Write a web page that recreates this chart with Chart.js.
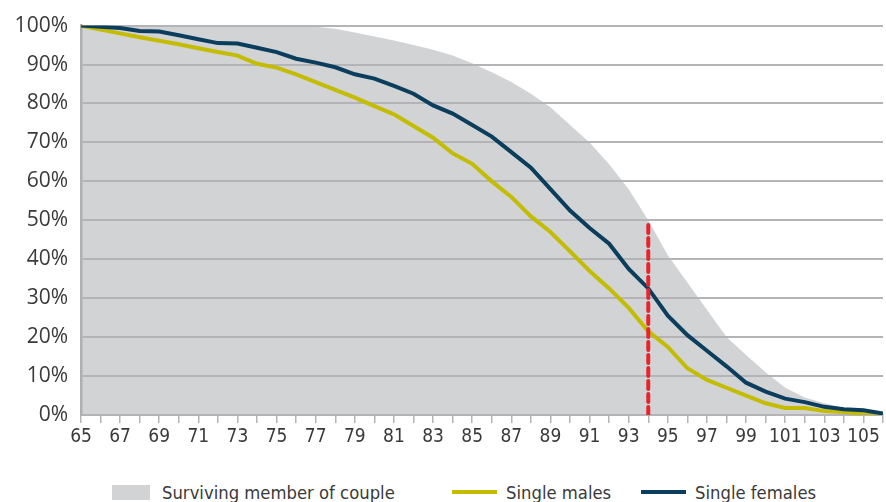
<!DOCTYPE html>
<html>
<head>
<meta charset="utf-8">
<script src="https://cdn.jsdelivr.net/npm/chart.js@4/dist/chart.umd.min.js"></script>
<style>
  body { margin: 0; background: #fff; }
  #wrap { position: relative; width: 886px; height: 502px; }
  #box { position: absolute; left: 0; top: 0; width: 886px; height: 470px; }
  #legend { position: absolute; left: 0; top: 480px; width: 886px; height: 24px;
    font-family: "DejaVu Sans Condensed", "Open Sans", sans-serif; font-size: 18.3px; color: #3a3a3a; }
  .item { position: absolute; top: 0; display: flex; align-items: center; height: 24px; white-space: nowrap; }
  .swatch { display: inline-block; margin-right: 12px; }
</style>
</head>
<body>
<div id="wrap">
  <div id="box"><canvas id="chart"></canvas></div>
  <div id="legend"></div>
</div>
<script>
// Ages on the x axis
const ages = [65, 66, 67, 68, 69, 70, 71, 72, 73, 74, 75, 76, 77, 78, 79, 80, 81, 82, 83, 84, 85,
  86, 87, 88, 89, 90, 91, 92, 93, 94, 95, 96, 97, 98, 99, 100, 101, 102, 103, 104, 105, 106];

// Share still alive (%) at each age
const couple = [100, 100, 100, 100, 100, 100, 100, 100, 100, 100, 100, 99.9, 99.7, 99.2, 98.2, 97.2,
  96.2, 95, 93.8, 92.3, 90.3, 88, 85.5, 82.5, 79, 74.5, 70, 64.4, 58, 50, 41, 34, 27, 20, 15.4, 11,
  7, 4.5, 3, 1.8, 1.1, 0.6];
const males = [100, 99, 98, 97, 96.1, 95.2, 94.2, 93.2, 92.3, 90.2, 89.2, 87.5, 85.5, 83.5, 81.5, 79.3,
  77.2, 74.2, 71.2, 67.2, 64.5, 60, 56, 51, 47, 42, 37, 32.5, 27.5, 21.5, 17.5, 12, 9, 7, 5, 3,
  1.8, 1.8, 1, 0.8, 0.2, 0];
const females = [100, 99.7, 99.4, 98.6, 98.5, 97.5, 96.5, 95.5, 95.4, 94.3, 93.2, 91.5, 90.5, 89.3, 87.5, 86.4,
  84.5, 82.5, 79.5, 77.4, 74.5, 71.5, 67.5, 63.5, 58, 52.5, 48, 44, 37.5, 32.5, 25.5, 20.5, 16.5, 12.5, 8.3, 6,
  4.2, 3.3, 2.1, 1.5, 1.2, 0.4];

// Dashed marker: age where half of couples still have a survivor
const markerAge = 94;
const markerLevel = 50;

const seriesNames = ['Surviving member of couple', 'Single males', 'Single females'];
const colors = { couple: '#d1d3d5', males: '#c4bc00', females: '#0b3d5d', marker: '#e8232d', grid: '#b4b4b7' };
const narrowFont = '"DejaVu Sans Condensed", "Open Sans", sans-serif';

function toPoints(values) {
  return ages.map((a, i) => ({ x: a, y: values[i] }));
}

new Chart(document.getElementById('chart'), {
  type: 'line',
  data: {
    datasets: [
      {
        label: 'marker',
        data: [{ x: markerAge, y: 0 }, { x: markerAge, y: markerLevel }],
        borderColor: colors.marker,
        borderWidth: 4,
        borderDash: [8, 5],
        borderCapStyle: 'round',
        pointRadius: 0,
        order: 0
      },
      {
        label: seriesNames[2],
        data: toPoints(females),
        borderColor: colors.females,
        borderWidth: 4,
        pointRadius: 0,
        order: 1
      },
      {
        label: seriesNames[1],
        data: toPoints(males),
        borderColor: colors.males,
        borderWidth: 4,
        pointRadius: 0,
        order: 2
      },
      {
        label: seriesNames[0],
        data: toPoints(couple),
        borderWidth: 0,
        borderColor: 'rgba(0,0,0,0)',
        backgroundColor: colors.couple,
        fill: 'origin',
        pointRadius: 0,
        order: 3
      }
    ]
  },
  options: {
    responsive: true,
    maintainAspectRatio: false,
    animation: false,
    layout: { padding: { top: 21, right: 0, bottom: 0, left: 0 } },
    plugins: {
      legend: { display: false },
      tooltip: { enabled: false },
      filler: { drawTime: 'beforeDraw' }
    },
    scales: {
      x: {
        type: 'linear',
        min: 65,
        max: 106,
        afterFit(scale) { scale.height = 55; },
        grid: { drawOnChartArea: false, drawTicks: true, tickLength: 8, color: colors.grid, lineWidth: 1.5 },
        border: { display: true, color: colors.grid, width: 2 },
        ticks: {
          stepSize: 1,
          autoSkip: false,
          maxRotation: 0,
          padding: 3,
          color: '#3a3a3a',
          font: { family: narrowFont, size: 19 },
          callback: v => (v % 2 === 1 ? String(v) : '')
        }
      },
      y: {
        min: 0,
        max: 100,
        afterFit(scale) { scale.width = 81; },
        grid: { drawTicks: false, color: colors.grid, lineWidth: 2 },
        border: { display: true, color: '#afafb2', width: 2.5 },
        ticks: {
          stepSize: 10,
          padding: 13,
          color: '#3a3a3a',
          font: { family: '"Open Sans", sans-serif', size: 21 },
          callback: v => v + '%'
        }
      }
    }
  }
});

// Legend below the chart
const legendItems = [
  { name: seriesNames[0], left: 112, swatch: 'width:38px;height:15px;background:' + colors.couple },
  { name: seriesNames[1], left: 452, swatch: 'width:45px;height:4px;background:' + colors.males + ';margin-right:9px' },
  { name: seriesNames[2], left: 641, swatch: 'width:45px;height:4px;background:' + colors.females + ';margin-right:9px' }
];
document.getElementById('legend').innerHTML = legendItems.map(it => `
  <div class="item" style="left:${it.left}px">
    <span class="swatch" style="${it.swatch}"></span><span>${it.name}</span>
  </div>`).join('');
</script>
</body>
</html>
